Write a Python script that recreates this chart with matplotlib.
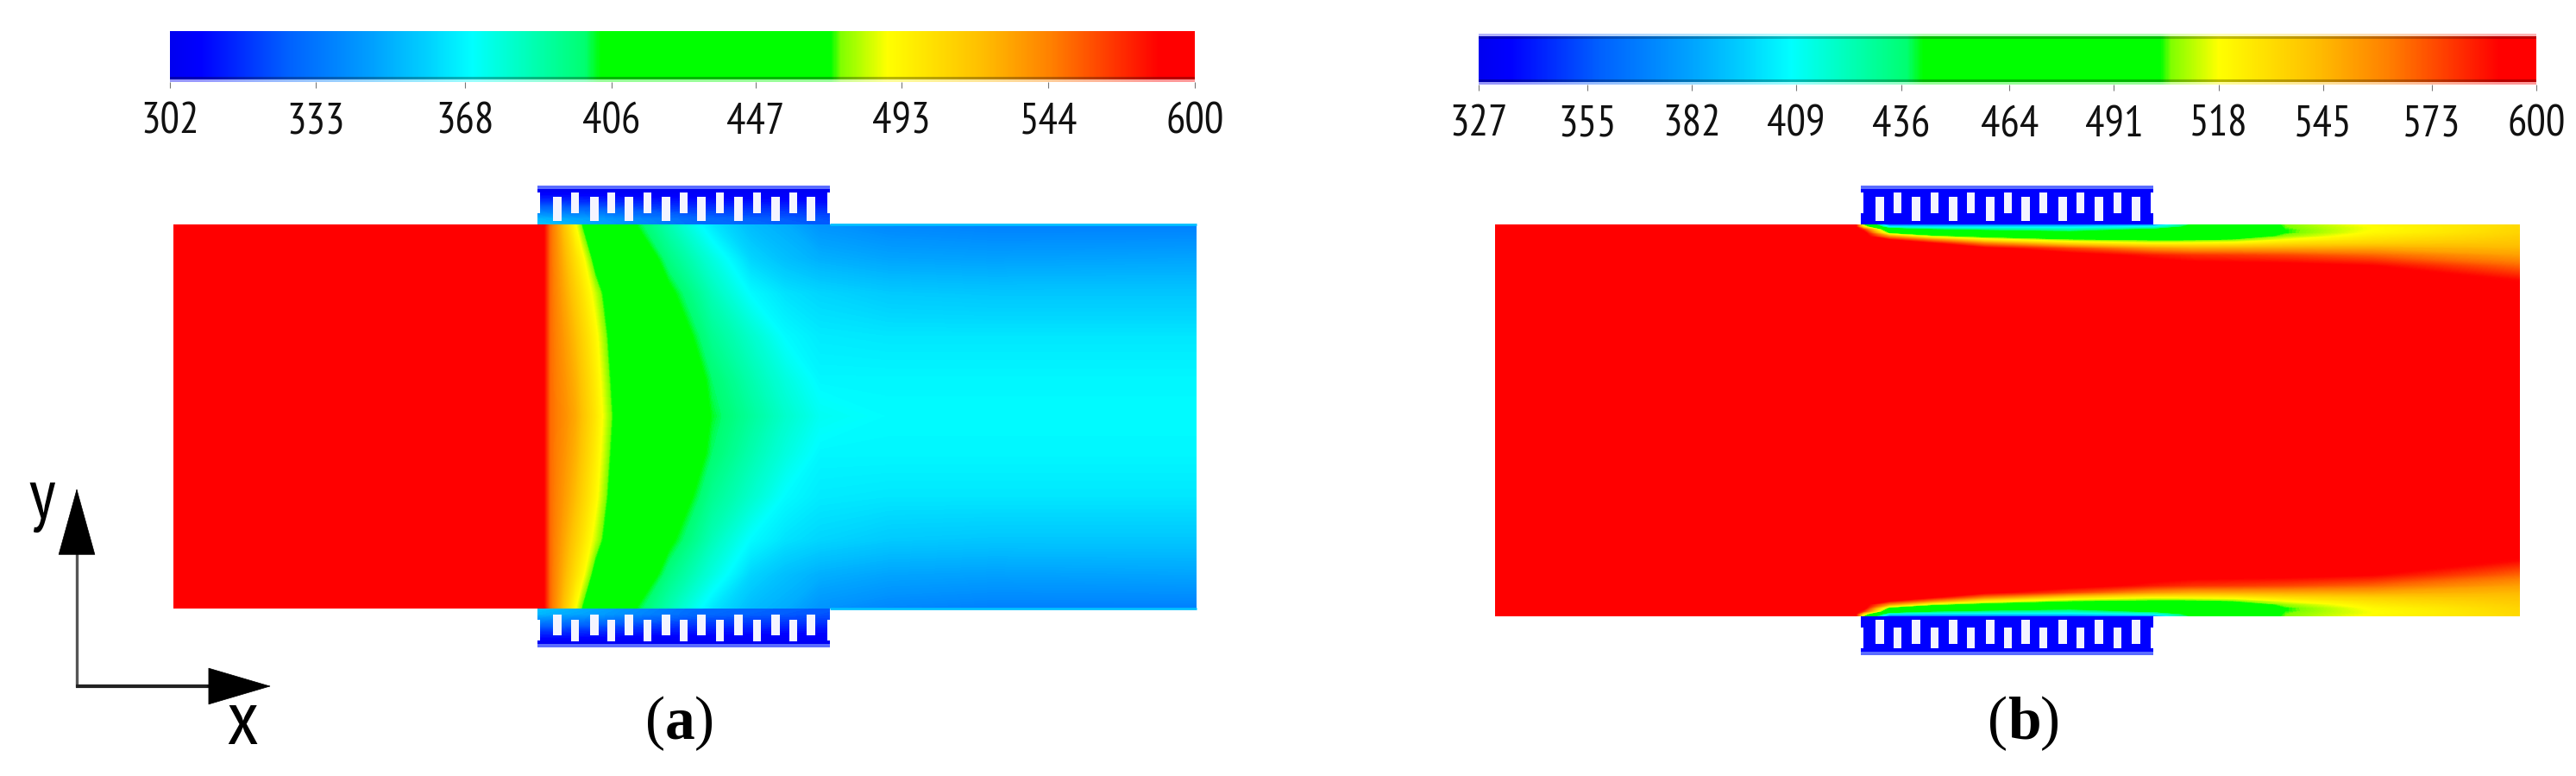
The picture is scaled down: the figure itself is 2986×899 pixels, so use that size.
import matplotlib
matplotlib.use("Agg")
import matplotlib.pyplot as plt
from matplotlib import font_manager
from matplotlib.colors import LinearSegmentedColormap, LogNorm, Normalize
from matplotlib.patches import Rectangle
import numpy as np

W, H = 2986, 899

# narrow face for the bar labels and axis letters, if it is there
try:
    font_manager.findfont("PT Sans Narrow", fallback_to_default=False)
    NARROW, NARROW_SCALE = "PT Sans Narrow", 1.0
except ValueError:
    NARROW, NARROW_SCALE = "Liberation Sans", 0.72

# colormap stops as seen on the two colour bars
cmap_stops = [(0.0, "#0000f0"), (0.03, "#0000ff"), (0.114, "#0060ff"), (0.197, "#00a0ff"),
              (0.25, "#00d0ff"), (0.295, "#00ffff"), (0.405, "#00ff70"), (0.42, "#00ff00"),
              (0.645, "#00ff00"), (0.655, "#80ff00"), (0.70, "#ffff00"), (0.79, "#ffc000"),
              (0.86, "#ff8000"), (0.965, "#ff0000"), (1.0, "#ff0000")]
cmap = LinearSegmentedColormap.from_list("fluent", cmap_stops, N=1024)

# panel a: temperature, rows = distance from wall (px)
a_x = [201, 625, 630, 638, 653, 667, 675, 690, 711, 738, 775, 825, 870, 910, 950, 1030, 1150, 1387]
a_depth = [0, 40, 80, 130, 180, 222]
a_temp = [
    [600, 600, 590, 551, 518, 488, 469, 455, 435, 402, 385, 364, 353, 349, 342, 338, 336, 336],
    [600, 600, 590, 551, 525, 503, 492, 462, 440, 418, 395, 376, 360, 354, 350, 347, 346, 347],
    [600, 600, 590, 551, 530, 512, 502, 482, 452, 428, 406, 384, 369, 363, 360, 357, 356, 356],
    [600, 600, 590, 551, 535, 520, 510, 492, 460, 438, 416, 392, 380, 369, 365, 364, 364, 364],
    [600, 600, 590, 551, 538, 525, 515, 497, 465, 445, 425, 399, 386, 376, 368, 368, 368, 368],
    [600, 600, 590, 551, 540, 528, 518, 500, 469, 450, 430, 402, 390, 380, 372, 369, 369, 369],
]
a_ticks = [302, 333, 368, 406, 447, 493, 544, 600]

# panel b
b_x = [1733, 2150, 2160, 2190, 2240, 2300, 2400, 2496, 2540, 2590, 2650, 2750, 2921]
b_depth = [0, 3, 6, 10, 14, 18, 22, 28, 36, 48, 65, 90, 227]
b_temp = [
    [600, 600, 500, 360, 360, 360, 360, 370, 440, 480, 506, 520, 533],
    [600, 600, 530, 405, 400, 400, 400, 410, 450, 470, 505, 518, 533],
    [600, 600, 580, 470, 440, 430, 425, 445, 455, 465, 503, 518, 534],
    [600, 600, 600, 500, 480, 470, 450, 465, 470, 475, 503, 520, 535],
    [600, 600, 600, 555, 510, 495, 480, 480, 485, 490, 508, 525, 537],
    [600, 600, 600, 590, 560, 525, 505, 500, 500, 505, 518, 530, 539],
    [600, 600, 600, 600, 590, 560, 530, 518, 520, 522, 530, 536, 541],
    [600, 600, 600, 600, 600, 595, 575, 555, 550, 550, 550, 550, 545],
    [600, 600, 600, 600, 600, 600, 598, 585, 580, 578, 575, 568, 552],
    [600, 600, 600, 600, 600, 600, 600, 600, 597, 596, 595, 590, 567],
    [600, 600, 600, 600, 600, 600, 600, 600, 600, 600, 600, 598, 589],
    [600, 600, 600, 600, 600, 600, 600, 600, 600, 600, 600, 600, 600],
    [600, 600, 600, 600, 600, 600, 600, 600, 600, 600, 600, 600, 600],
]
b_ticks = [327, 355, 382, 409, 436, 464, 491, 518, 545, 573, 600]

# heat sink temperature in panel a, left to right across the block
a_sink_x = [623, 700, 800, 962]
a_sink_depth = [0, 6, 14, 26, 38, 44]
a_sink_temp = [
    [355, 346, 331, 325],
    [352, 344, 330, 324],
    [337, 332, 322, 319],
    [318, 316, 312, 310],
    [305, 304, 304, 304],
    [304, 304, 304, 304],
]

# slot left edges, slots near the wall and far from it
a_near = [641, 684, 724, 767, 808, 851, 894, 935]
a_far = [662, 704, 746, 788, 830, 873, 915]
b_near = [2174, 2216, 2259, 2302, 2343, 2386, 2428, 2471]
b_far = [2195, 2238, 2280, 2323, 2364, 2407, 2450]

fig = plt.figure(figsize=(W / 100, H / 100), dpi=100)
ax = fig.add_axes([0, 0, 1, 1])
ax.set_xlim(0, W)
ax.set_ylim(H, 0)
ax.axis("off")


def draw_channel(xs, depth, temp, y_top, y_bot, norm):
    depth = np.array(depth, dtype=float)
    temp = np.array(temp, dtype=float)
    half = (y_bot - y_top) / 2
    depth = depth * half / depth[-1] if depth[-1] > 222 else depth
    ys = np.concatenate([y_top + depth, (y_bot - depth[::-1])[1:]])
    zz = np.vstack([temp, temp[::-1][1:]])
    return ax.contourf(xs, ys, zz, levels=np.linspace(norm.vmin, norm.vmax, 400),
                       cmap=cmap, norm=norm, antialiased=False, extend="both")


def draw_sink(x0, x1, y_wall, sign, near, far, norm, near_span, far_span, t=None):
    # solid block, coloured by temperature in panel a and plain blue in panel b
    y_out = y_wall + sign * 44
    if t is None:
        ax.add_patch(Rectangle((x0, min(y_wall, y_out)), x1 - x0, 44, color="#0000ff", lw=0))
    else:
        dep = np.array(a_sink_depth, dtype=float)
        ax.contourf(a_sink_x, y_wall + sign * dep, np.array(t),
                    levels=np.linspace(norm.vmin, norm.vmax, 200), cmap=cmap, norm=norm,
                    antialiased=False, extend="both")
    # pale edge of the outer plate
    yy = y_out - 1 if sign < 0 else y_out - 3
    ax.add_patch(Rectangle((x0, yy), x1 - x0, 4, color="#5a6cff", lw=0))
    for xl in near:
        y0, y1 = sorted((y_wall + sign * near_span[0], y_wall + sign * near_span[1]))
        ax.add_patch(Rectangle((xl, y0), 10, y1 - y0, color="#f4f4ff", lw=0))
    for xl in far:
        y0, y1 = sorted((y_wall + sign * far_span[0], y_wall + sign * far_span[1]))
        ax.add_patch(Rectangle((xl, y0), 9, y1 - y0, color="#f4f4ff", lw=0))
    # notches in both sides of the block
    y0, y1 = sorted((y_wall + sign * 13, y_wall + sign * 37))
    for xn in (x0, x1 - 3):
        ax.add_patch(Rectangle((xn, y0), 3, y1 - y0, color="white", lw=0))


def draw_bar(mappable, rect, ticks, top_strip=False):
    cax = fig.add_axes(rect)
    cb = fig.colorbar(mappable, cax=cax, orientation="horizontal")
    cb.set_ticks(ticks)
    cb.set_ticklabels([str(v) for v in ticks])
    cb.minorticks_off()
    cb.outline.set_visible(False)
    cax.tick_params(length=5, width=0.8, color="#777777", pad=12, labelsize=36 * NARROW_SCALE)
    for lab in cax.get_xticklabels():
        lab.set_family(NARROW)
        lab.set_color("#111111")
    # the soft dark and pale seams along the bar edge
    cax.add_patch(Rectangle((0, 0), 1, 0.05, transform=cax.transAxes, color="white", alpha=0.6, lw=0))
    cax.add_patch(Rectangle((0, 0.05), 1, 0.06, transform=cax.transAxes, color="black", alpha=0.28, lw=0))
    if top_strip:
        cax.add_patch(Rectangle((0, 0.95), 1, 0.05, transform=cax.transAxes, color="white", alpha=0.7, lw=0))
        cax.add_patch(Rectangle((0, 0.90), 1, 0.05, transform=cax.transAxes, color="black", alpha=0.25, lw=0))
    return cb


def px_rect(x0, y0, x1, y1):
    return [x0 / W, 1 - y1 / H, (x1 - x0) / W, (y1 - y0) / H]


norm_a = LogNorm(302, 600)
norm_b = Normalize(327, 600)

draw_channel(a_x, a_depth, a_temp, 260, 705, norm_a)
draw_channel(b_x, b_depth, b_temp, 260, 714, norm_b)

# bright line along the walls past the block in panel a
ax.plot([962, 1387], [260, 260], color="#00c0ff", lw=2, solid_capstyle="butt")
ax.plot([962, 1387], [705, 705], color="#00c0ff", lw=2, solid_capstyle="butt")

draw_sink(623, 962, 260, -1, a_near, a_far, norm_a, (4, 32), (13, 37), a_sink_temp)
draw_sink(623, 962, 705, 1, a_near, a_far, norm_a, (7, 31), (13, 38), a_sink_temp)
draw_sink(2157, 2496, 260, -1, b_near, b_far, norm_b, (4, 32), (13, 37))
draw_sink(2157, 2496, 714, 1, b_near, b_far, norm_b, (4, 32), (13, 37))

sm_a = plt.cm.ScalarMappable(norm=norm_a, cmap=cmap)
sm_b = plt.cm.ScalarMappable(norm=norm_b, cmap=cmap)
draw_bar(sm_a, px_rect(197, 36, 1385, 95), a_ticks)
draw_bar(sm_b, px_rect(1714, 39, 2940, 98), b_ticks, top_strip=True)

# coordinate arrows
ax.plot([89, 89], [796, 610], color="#555555", lw=2.4, solid_capstyle="butt")
ax.plot([88, 275], [795, 795], color="#222222", lw=3, solid_capstyle="butt")
ax.annotate("", xy=(89, 566), xytext=(89, 640),
            arrowprops=dict(arrowstyle="-|>,head_length=1.8,head_width=0.5", color="black", lw=0.5,
                            shrinkA=0, shrinkB=0, mutation_scale=30))
ax.annotate("", xy=(314, 795), xytext=(240, 795),
            arrowprops=dict(arrowstyle="-|>,head_length=1.7,head_width=0.5", color="black", lw=0.5,
                            shrinkA=0, shrinkB=0, mutation_scale=30))
ax.text(49, 580, "y", fontsize=58 * NARROW_SCALE, ha="center", va="center", family=NARROW, color="black")
ax.text(281, 840, "x", fontsize=65 * NARROW_SCALE, ha="center", va="center", family=NARROW, color="black")

# panel letters, bold between plain brackets
for cx, half_w, letter in [(788, 17, "a"), (2346, 19, "b")]:
    ax.text(cx - half_w, 838, "(", fontsize=50, ha="right", va="center", family="Liberation Serif")
    ax.text(cx, 838, letter, fontsize=50, ha="center", va="center", family="Liberation Serif", weight="bold")
    ax.text(cx + half_w, 838, ")", fontsize=50, ha="left", va="center", family="Liberation Serif")

fig.savefig("out.png", dpi=100, facecolor="white")
